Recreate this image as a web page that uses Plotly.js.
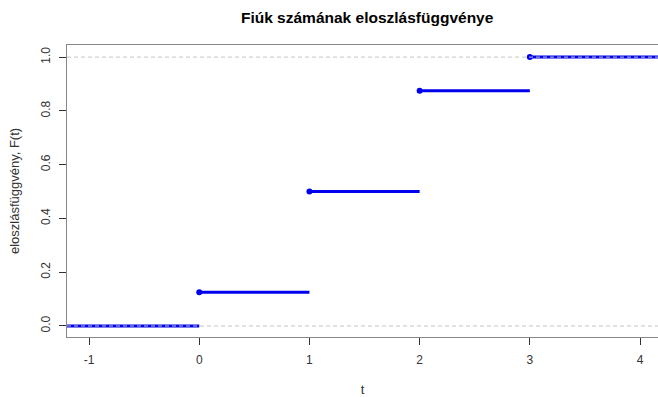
<!DOCTYPE html>
<html><head><meta charset="utf-8">
<script src="https://cdn.plot.ly/plotly-3.0.1.min.js"></script>
<style>html,body{margin:0;padding:0;background:#fff;}#chart{width:658px;height:397px;}</style>
</head><body><div id="chart"></div>
<script>
// Data
const breaks = [0, 1, 2, 3];
const cdfValues = [0, 0.125, 0.5, 0.875, 1];
const xDomain = [-1.2, 4.163];
const xTicks = [-1, 0, 1, 2, 3, 4];
const yTicks = [0, 0.2, 0.4, 0.6, 0.8, 1.0];
const refLines = [0, 1];

// Build step segments
const segX = [], segY = [];
for (let i = 0; i < cdfValues.length; i++) {
  const x0 = i === 0 ? xDomain[0] : breaks[i - 1];
  const x1 = i === cdfValues.length - 1 ? xDomain[1] : breaks[i];
  segX.push(x0, x1, null);
  segY.push(cdfValues[i], cdfValues[i], null);
}
const ptX = breaks.slice();
const ptY = breaks.map((b, i) => cdfValues[i + 1]);

const blue = '#0000ee';
const traces = [
  {x: segX, y: segY, mode: 'lines', line: {color: blue, width: 3}, hoverinfo: 'skip', connectgaps: false},
  {x: ptX, y: ptY, mode: 'markers', marker: {color: blue, size: 6}, hoverinfo: 'skip'}
];

const shapes = refLines.map(v => ({
  type: 'line', xref: 'paper', x0: 0, x1: 1, yref: 'y', y0: v, y1: v,
  line: {color: '#c4c4c4', width: 1, dash: '4px,3px'}, layer: 'above'
}));

const font = {family: 'Liberation Sans, Arial, sans-serif', size: 12, color: '#333'};
const titleFont = {family: 'Liberation Sans, Arial, sans-serif', size: 13, color: '#333'};
const layout = {
  width: 658, height: 397,
  margin: {l: 67, r: 0, t: 45, b: 60},
  paper_bgcolor: '#fff', plot_bgcolor: '#fff',
  showlegend: false,
  font: font,
  title: {text: '<b>Fiúk számának eloszlásfüggvénye</b>', x: 0.558, xanchor: 'center', y: 0.955, yanchor: 'middle',
          font: {family: 'Liberation Sans, Arial, sans-serif', size: 15.5, color: '#000'}},
  xaxis: {
    range: xDomain, tickvals: xTicks, ticktext: xTicks.map(String),
    showgrid: false, zeroline: false, showline: true, mirror: true, linecolor: '#888', linewidth: 1,
    ticks: 'outside', ticklen: 7, tickcolor: '#333', tickfont: font, ticklabelstandoff: 5,
    title: {text: 't', font: titleFont, standoff: 24}
  },
  yaxis: {
    range: [-0.041, 1.045], tickvals: yTicks, ticktext: yTicks.map(v => v.toFixed(1)),
    tickangle: -90,
    showgrid: false, zeroline: false, showline: true, mirror: true, linecolor: '#888', linewidth: 1,
    ticks: 'outside', ticklen: 7, tickcolor: '#333', tickfont: font, ticklabelstandoff: 4,
    title: {text: 'eloszlásfüggvény, F(t)', font: titleFont, standoff: 16}
  },
  shapes: shapes
};
Plotly.newPlot('chart', traces, layout, {staticPlot: true, displayModeBar: false});
</script></body></html>
